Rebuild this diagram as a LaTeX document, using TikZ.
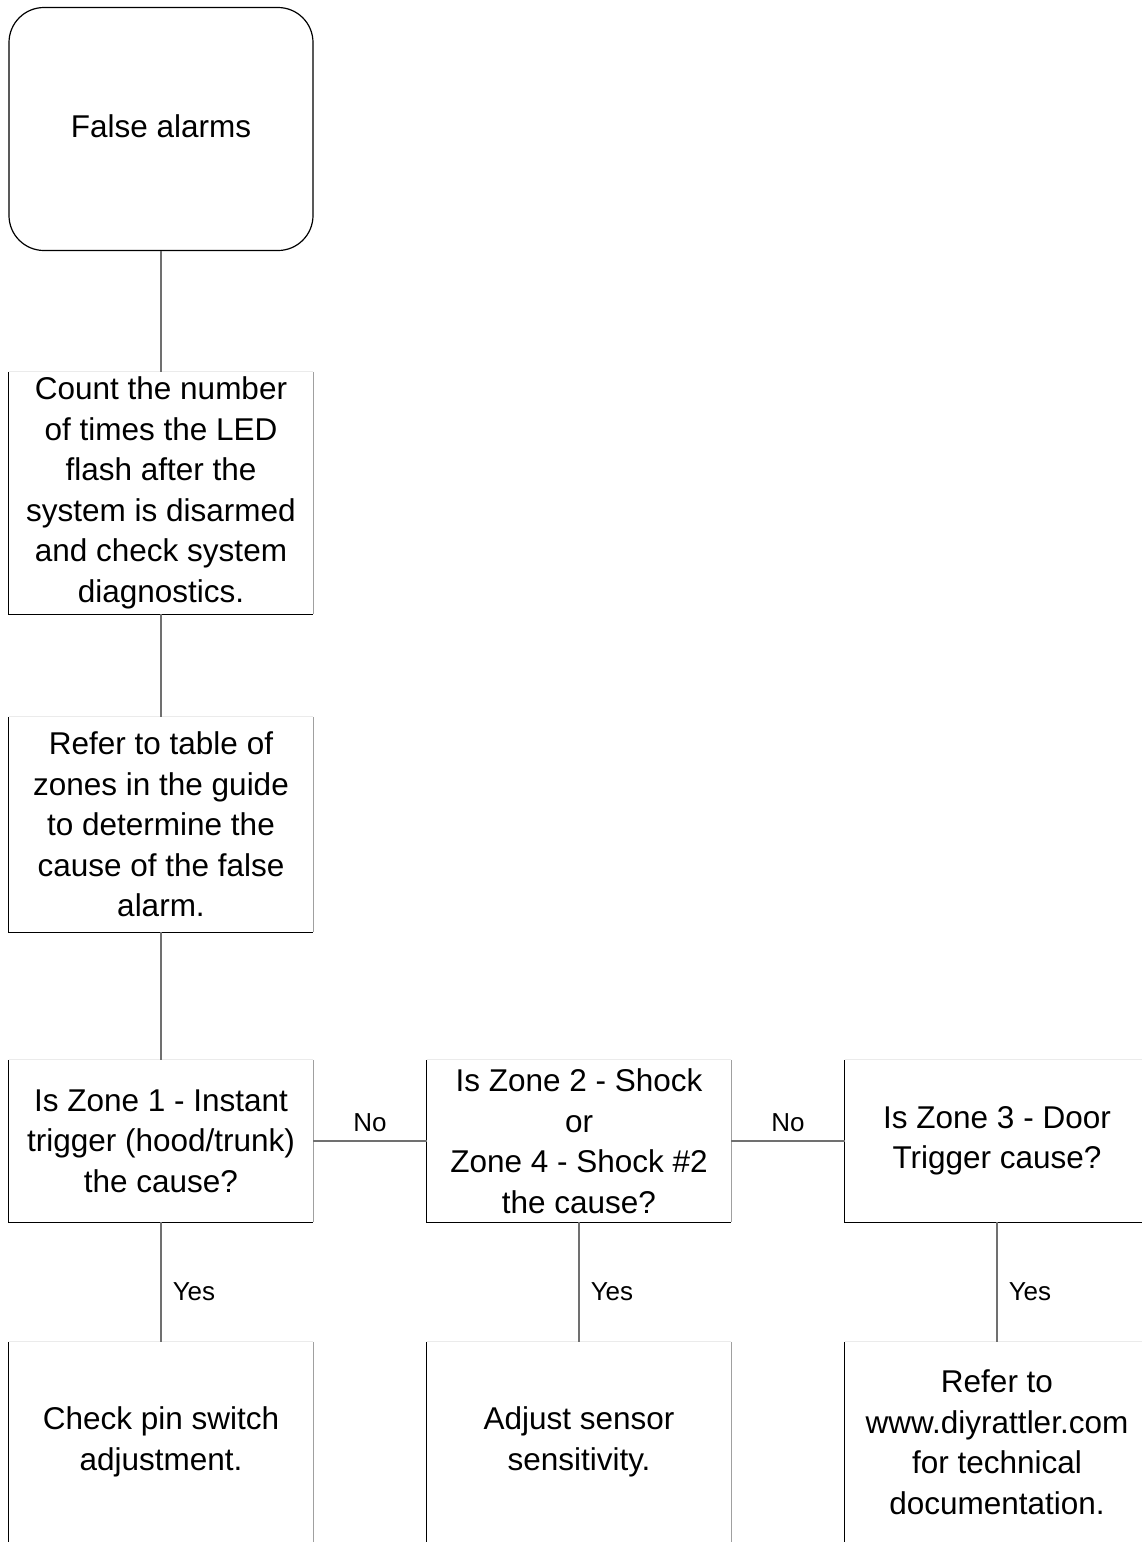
\documentclass[tikz,border=0pt]{standalone}
\usepackage{fontspec}
\setmainfont{Liberation Sans}
\definecolor{EdgeLight}{HTML}{EBEBEB}
\definecolor{EdgeGrey}{HTML}{A0A0A0}
\definecolor{WireGrey}{HTML}{707070}
\usetikzlibrary{positioning}
\tikzset{
  stepbox/.style={minimum width=304pt, inner sep=0pt, align=center,
                  font=\fontsize{31.5}{40.5}\selectfont},
  wire/.style={draw=WireGrey, line width=1.5pt},
  tag/.style={font=\fontsize{26}{30}\selectfont, inner sep=0pt},
  darkedge/.style={draw=black, line width=1.3pt},
  greyedge/.style={draw=EdgeGrey, line width=1.1pt},
  lightedge/.style={draw=EdgeLight, line width=1.1pt}
}

\begin{document}
\begin{tikzpicture}[x=1pt,y=-1pt]
  \useasboundingbox (0,0) rectangle (1142,1543);

  % main column
  \node[stepbox, draw=black, line width=1.2pt, rounded corners=35pt,
        minimum height=243pt] (start) at (161,129) {\raisebox{5pt}{False alarms}};
  \node[stepbox, minimum height=242pt] (count) at (161,493)
    {Count the number\\of times the LED\\flash after the\\system is disarmed\\and check system\\diagnostics.};
  \node[stepbox, minimum height=215pt] (refer) at (161,824.5)
    {Refer to table of\\zones in the guide\\to determine the\\cause of the false\\alarm.};

  % zone questions
  \node[stepbox, minimum height=162pt] (zone1) at (161,1141)
    {Is Zone 1 - Instant\\trigger (hood/trunk)\\the cause?};
  \node[stepbox, minimum height=162pt] (zone24) at (579,1141)
    {Is Zone 2 - Shock\\or\\Zone 4 - Shock \#2\\the cause?};
  \node[stepbox, minimum height=162pt] (zone3) at (997,1141)
    {Is Zone 3 - Door\\Trigger cause?};

  % actions
  \node[stepbox, minimum height=200pt] (pin) at (161,1442)
    {Check pin switch\\adjustment.};
  \node[stepbox, minimum height=200pt] (sens) at (579,1442)
    {Adjust sensor\\sensitivity.};
  \node[stepbox, minimum height=200pt] (docs) at (997,1442)
    {Refer to\\www.diyrattler.com\\for technical\\documentation.};

  % box edges
  \foreach \n in {count,refer,zone1,zone24,zone3} {
    \draw[lightedge] (\n.north west) -- (\n.north east);
    \draw[greyedge] (\n.north east) -- (\n.south east);
    \draw[darkedge] (\n.north west) -- (\n.south west) -- (\n.south east);
  }
  \foreach \n in {pin,sens,docs} {
    \draw[lightedge] (\n.north west) -- (\n.north east);
    \draw[greyedge] (\n.north east) -- (\n.south east);
    \draw[darkedge] (\n.north west) -- (\n.south west);
  }

  % connectors
  \draw[wire] (start) -- (count);
  \draw[wire] (count) -- (refer);
  \draw[wire] (refer) -- (zone1);
  \draw[wire] (zone1) -- node[tag, above=9pt] {No} (zone24);
  \draw[wire] (zone24) -- node[tag, above=9pt] {No} (zone3);
  \draw[wire] (zone1) -- node[tag, pos=0.58, right=11pt] {Yes} (pin);
  \draw[wire] (zone24) -- node[tag, pos=0.58, right=11pt] {Yes} (sens);
  \draw[wire] (zone3) -- node[tag, pos=0.58, right=11pt] {Yes} (docs);
\end{tikzpicture}
\end{document}
